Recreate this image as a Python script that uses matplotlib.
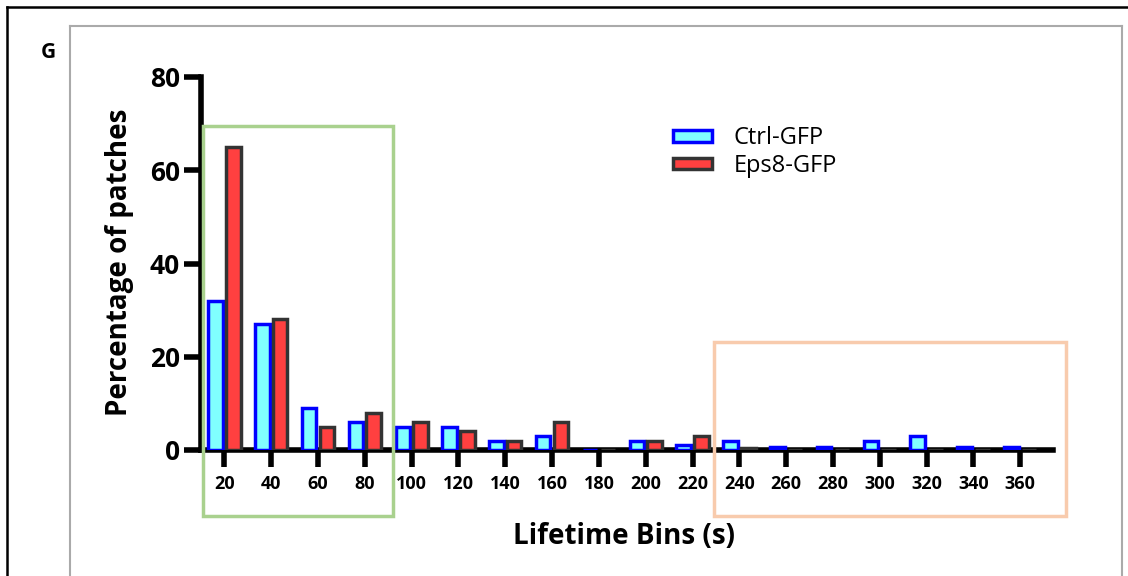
import matplotlib
matplotlib.use("Agg")
import matplotlib.pyplot as plt
import numpy as np
from matplotlib.patches import Rectangle, Patch
from matplotlib.lines import Line2D

bins = ["20", "40", "60", "80", "100", "120", "140", "160", "180", "200",
        "220", "240", "260", "280", "300", "320", "340", "360"]
ctrl = [32, 27, 9, 6, 5, 5, 2, 3, 0, 2, 1, 2, 0.7, 0.7, 2, 3, 0.7, 0.7]
eps8 = [65, 28, 5, 8, 6, 4, 2, 6, 0, 2, 3, 0.5, 0, 0, 0, 0, 0, 0]
series_names = ["Ctrl-GFP", "Eps8-GFP"]
yticks = [0, 20, 40, 60, 80]

plt.rcParams['font.family'] = ['Open Sans', 'DejaVu Sans']

W, H = 1128, 576
fig = plt.figure(figsize=(W / 100, H / 100), dpi=100)

def fx(px):
    return px / W

def fy(py):
    return 1 - py / H

ax = fig.add_axes([fx(201), fy(450), fx(1053) - fx(201), fy(77) - fy(450)])

x = np.arange(len(bins))
bw = 0.31
gap = 0.035
ax.bar(x - bw / 2 - gap, ctrl, width=bw, color="#80FFFF", edgecolor="#0000FF",
       linewidth=2.5, label=series_names[0], zorder=3)
ax.bar(x + bw / 2 + gap, eps8, width=bw, color="#FF4040", edgecolor="#333333",
       linewidth=2.5, label=series_names[1], zorder=3)

ax.set_xlim(-0.5, 17.7)
ax.set_ylim(0, 80)
ax.set_yticks(yticks)
ax.set_xticks(x)
ax.set_xticklabels(bins, fontsize=13, fontweight="bold")
ax.set_yticklabels([str(v) for v in yticks], fontsize=19, fontweight="bold")

for s in ["top", "right"]:
    ax.spines[s].set_visible(False)
for s in ["left", "bottom"]:
    ax.spines[s].set_linewidth(4)
    ax.spines[s].set_capstyle("projecting")
ax.tick_params(axis="both", width=4, length=12, direction="out")
ax.tick_params(axis="x", pad=6)
ax.tick_params(axis="y", pad=3)

ax.set_ylabel("Percentage of patches", fontsize=20, fontweight="bold")
ax.set_xlabel("Lifetime Bins (s)", fontsize=20, fontweight="bold")
ax.xaxis.set_label_coords((fx(624) - fx(201)) / (fx(1053) - fx(201)), (fy(537) - fy(450)) / (fy(77) - fy(450)))
ax.yaxis.set_label_coords((fx(120) - fx(201)) / (fx(1053) - fx(201)), (fy(262) - fy(450)) / (fy(77) - fy(450)))
ax.xaxis.label.set_va("center")
ax.yaxis.label.set_va("center")

handles = [Patch(facecolor="#80FFFF", edgecolor="#0000FF", linewidth=2.5),
           Patch(facecolor="#FF4040", edgecolor="#333333", linewidth=2.5)]
leg = fig.legend(handles, series_names, loc="upper left",
                 bbox_to_anchor=(fx(652), fy(105)), frameon=False,
                 fontsize=17, handlelength=1.65, handleheight=0.38,
                 handletextpad=0.9, labelspacing=0.15)

# highlight boxes
fig.patches.append(Rectangle((fx(203), fy(516)), fx(393) - fx(203), fy(126) - fy(516),
                             transform=fig.transFigure, fill=False,
                             edgecolor="#A9D18E", linewidth=2.5, zorder=5))
fig.patches.append(Rectangle((fx(714), fy(516)), fx(1066) - fx(714), fy(342) - fy(516),
                             transform=fig.transFigure, fill=False,
                             edgecolor="#F8CBAD", linewidth=2.5, zorder=5))

# frame lines
fig.add_artist(Line2D([fx(7), fx(7)], [fy(576), fy(7)], color="black", linewidth=1.8))
fig.add_artist(Line2D([fx(7), fx(1128)], [fy(7), fy(7)], color="black", linewidth=1.8))
fig.add_artist(Line2D([fx(70), fx(70)], [fy(576), fy(26)], color="#AAAAAA", linewidth=1.5))
fig.add_artist(Line2D([fx(70), fx(1122)], [fy(26), fy(26)], color="#AAAAAA", linewidth=1.5))
fig.add_artist(Line2D([fx(1122), fx(1122)], [fy(576), fy(26)], color="#AAAAAA", linewidth=1.5))

fig.text(fx(48), fy(52), "G", fontsize=15, fontweight="bold", ha="center", va="center")

fig.savefig("out.png", dpi=100)
